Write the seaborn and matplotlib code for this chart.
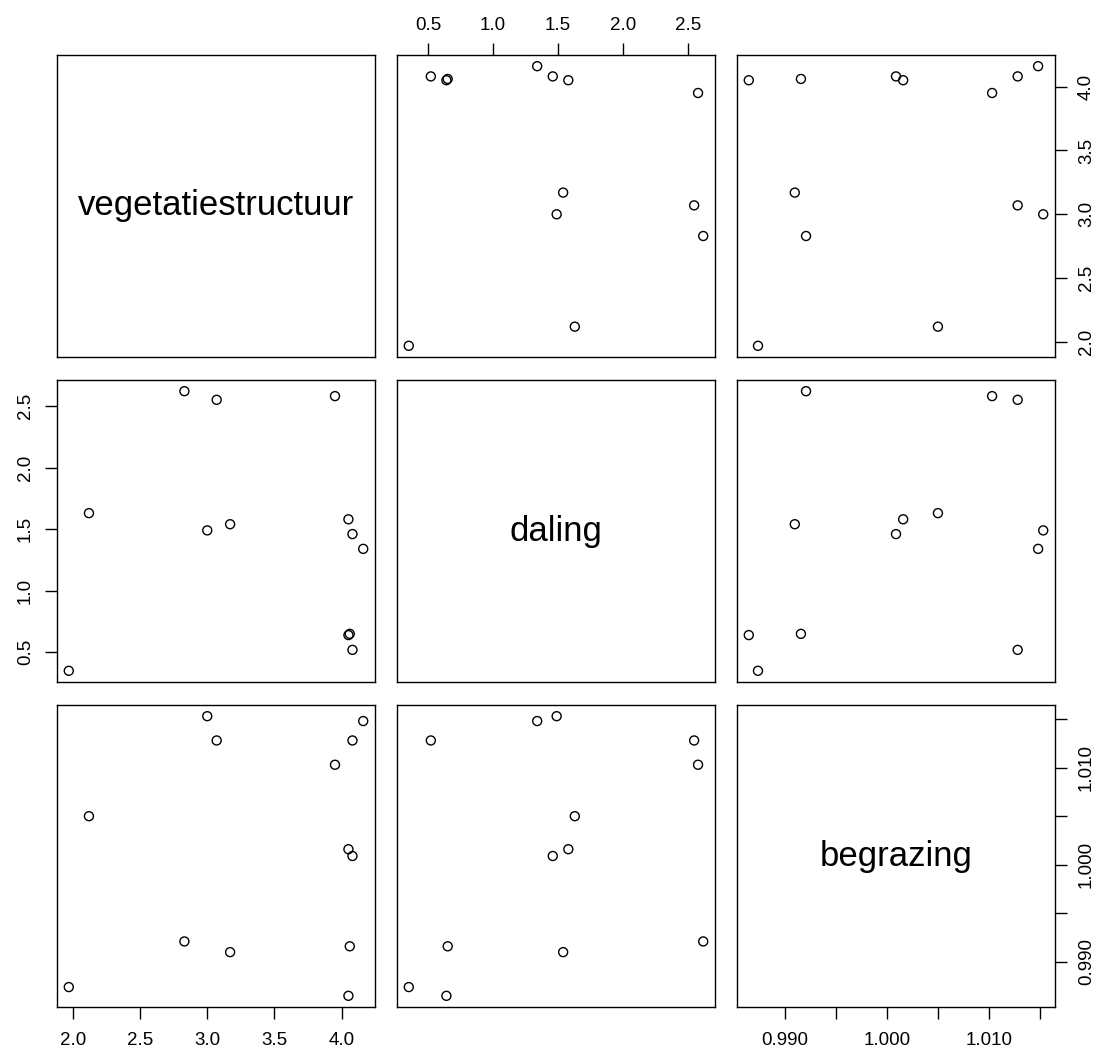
import numpy as np
import pandas as pd
import matplotlib
matplotlib.use("Agg")
import matplotlib.pyplot as plt
import seaborn as sns

# Observations per plot
vegetatiestructuur = [4.08, 4.05, 4.06, 4.16, 4.08, 4.05, 3.95, 3.17, 3.00, 3.07, 2.83, 2.12, 1.97]
daling = [0.52, 0.64, 0.65, 1.34, 1.46, 1.58, 2.58, 1.54, 1.49, 2.55, 2.62, 1.63, 0.35]
begrazing = [1.0128, 0.9865, 0.9916, 1.0148, 1.0009, 1.0016, 1.0103, 0.9910, 1.0153,
             1.0128, 0.9921, 1.0050, 0.9874]

variables = ["vegetatiestructuur", "daling", "begrazing"]

# Tick positions and labels per variable
veg_ticks = [2.0, 2.5, 3.0, 3.5, 4.0]
veg_labels = ["2.0", "2.5", "3.0", "3.5", "4.0"]
daling_ticks = [0.5, 1.0, 1.5, 2.0, 2.5]
daling_labels = ["0.5", "1.0", "1.5", "2.0", "2.5"]
begr_ticks = [0.990, 0.995, 1.000, 1.005, 1.010, 1.015]
begr_labels = ["0.990", "", "1.000", "", "1.010", ""]

sns.set_style("white")
plt.rcParams["font.family"] = ["Liberation Sans", "DejaVu Sans"]
plt.rcParams["axes.edgecolor"] = "black"
plt.rcParams["axes.linewidth"] = 1.0

df = pd.DataFrame({
    "vegetatiestructuur": vegetatiestructuur,
    "daling": daling,
    "begrazing": begrazing,
})

g = sns.PairGrid(df, vars=variables, despine=False, height=3.5)
g.map_offdiag(sns.scatterplot, color="black", edgecolor="black", s=42, linewidth=1.0)

# open circles
for ax in g.axes.flat:
    for coll in ax.collections:
        coll.set_facecolor("none")
        coll.set_edgecolor("black")

# variable names on the diagonal
for i, name in enumerate(variables):
    g.axes[i, i].text(0.5, 0.5, name, transform=g.axes[i, i].transAxes,
                      ha="center", va="center", fontsize=25, color="black")


def padded(values, frac=0.04):
    lo, hi = min(values), max(values)
    d = (hi - lo) * frac
    return lo - d, hi + d


limits = {v: padded(df[v]) for v in variables}
for i, yv in enumerate(variables):
    for j, xv in enumerate(variables):
        ax = g.axes[i, j]
        ax.set_xlim(limits[xv])
        ax.set_ylim(limits[yv])
        ax.set_xlabel("")
        ax.set_ylabel("")
        ax.tick_params(axis="both", which="both", left=False, right=False, top=False,
                       bottom=False, labelleft=False, labelright=False,
                       labeltop=False, labelbottom=False,
                       direction="out", length=8.6, width=1.0,
                       labelsize=13.5, colors="black")
        for s in ax.spines.values():
            s.set_visible(True)
            s.set_color("black")
            s.set_linewidth(1.0)

# column ticks (shared within each column)
g.axes[2, 0].set_xticks(veg_ticks, veg_labels)
g.axes[0, 1].set_xticks(daling_ticks, daling_labels)
g.axes[2, 2].set_xticks(begr_ticks, begr_labels)
# row ticks (shared within each row)
g.axes[0, 2].set_yticks(veg_ticks, veg_labels)
g.axes[1, 0].set_yticks(daling_ticks, daling_labels)
g.axes[2, 2].set_yticks(begr_ticks, begr_labels)

# alternate axis sides
g.axes[2, 0].tick_params(axis="x", bottom=True, labelbottom=True, pad=9.5)
g.axes[0, 1].tick_params(axis="x", top=True, labeltop=True, pad=6.5)
g.axes[2, 2].tick_params(axis="x", bottom=True, labelbottom=True, pad=9.5)
g.axes[0, 2].tick_params(axis="y", right=True, labelright=True, pad=8)
g.axes[1, 0].tick_params(axis="y", left=True, labelleft=True, pad=8)
g.axes[2, 2].tick_params(axis="y", right=True, labelright=True, pad=8)

for ax, side in ((g.axes[0, 2], "left"), (g.axes[2, 2], "left"), (g.axes[1, 0], "right")):
    for lab in ax.get_yticklabels():
        lab.set_rotation(90)
        lab.set_rotation_mode("default")
        lab.set_ha(side)
        lab.set_va("center")

g.figure.set_size_inches(11.08, 10.62)
g.figure.subplots_adjust(left=57 / 1108, right=1055 / 1108,
                         top=1 - 55 / 1062, bottom=1 - 1007 / 1062,
                         wspace=0.0692, hspace=0.0762)
g.figure.savefig("out.png", dpi=100, facecolor="white")
